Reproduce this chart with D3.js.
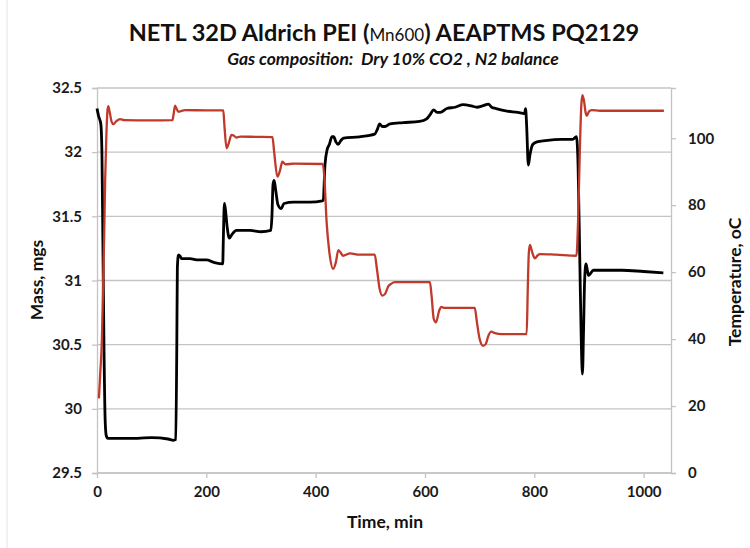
<!DOCTYPE html>
<html><head><meta charset="utf-8">
<script src="https://cdn.jsdelivr.net/npm/d3@7"></script>
<style>
body{margin:0;background:#fff;}
svg{display:block;font-family:Lato,"Open Sans",sans-serif;}
</style></head>
<body><svg id="c" width="750" height="548"></svg>
<script>
// ---- data ----
const massTime = [0,3,7,9,11,13,15,17,20,27,60,100,130,140,144,146,147,149,152,155,170,185,200,215,230,231,233,235,238,242,247,255,280,300,318,320,322,324,327,331,337,342,360,390,412,414,417,421,425,430,433,437,441,446,451,480,508,513,517,522,527,536,560,590,603,609,616,622,628,640,655,670,685,695,705,716,722,730,750,770,782,784,786,789,792,797,805,820,850,870,877,880,883,886,888,890,892,894.5,897,899,902,908,930,960,1000,1036];
const massValue = [32.34,32.28,32.22,32.0,31.2,30.4,29.9,29.79,29.77,29.77,29.77,29.775,29.765,29.755,29.76,30.5,31.1,31.2,31.19,31.17,31.17,31.16,31.16,31.14,31.13,31.3,31.6,31.55,31.42,31.33,31.36,31.39,31.39,31.38,31.39,31.5,31.75,31.78,31.7,31.59,31.56,31.6,31.61,31.61,31.62,31.63,31.9,32.02,32.06,32.12,32.12,32.08,32.06,32.09,32.11,32.12,32.14,32.18,32.22,32.2,32.2,32.22,32.23,32.24,32.26,32.29,32.33,32.31,32.31,32.34,32.35,32.37,32.36,32.35,32.36,32.375,32.35,32.34,32.32,32.31,32.30,32.34,32.2,31.9,31.98,32.06,32.08,32.09,32.1,32.1,32.12,31.9,31.2,30.5,30.27,30.6,31.0,31.13,31.08,31.04,31.05,31.08,31.08,31.08,31.07,31.06];
const tempTime = [3.5,6,9,11,13,15,17,19,20.7,23,27,30,35,42,50,100,138,140,142.7,145,149,155,161,200,231,233,237,241,246,250,255,262,290,321,324,330,335,339,345,360,413,416,420,425,432,437,441.5,445,450,463,480,508,512,517,522,527,533,538,545,580,609,612,616,620,626,630,636,660,691,695,700,706,711,716,721,728,740,786,788,790,792,796,801,806,810,840,877,880,883,886,888,891,894,896,900,905,920,1000,1037];
const tempValue = [22.3,30,40,55,70,88,100,108,109.6,108,104.8,104.2,105,105.7,105.4,105.3,105.4,107,109.7,109,107.9,108.2,108.4,108.3,108.3,104,97,98.5,101,100.8,100.2,100.5,100.4,100.3,96,88.5,90.5,93,92.2,92.4,92.3,88,75,66,61,63,66.6,66,64.9,65.6,65.2,65.2,61,55,53,53.5,55.8,56.5,57,57,57,53,46,45,48.5,49.6,49.3,49.3,49.3,45,40,38,38.5,41,42.2,41.8,41.5,41.5,55,66,68.1,66,64.1,65,65.4,65.2,64.9,75,95,110,112.9,111,107.5,106.7,108,108.4,108.2,108.2,108.2];
const xTicks = [0,200,400,600,800,1000];
const massTicks = [29.5,30,30.5,31,31.5,32,32.5];
const massTickLabels = ["29.5","30","30.5","31","31.5","32","32.5"];
const tempTicks = [0,20,40,60,80,100];
const titleMain = ["NETL 32D Aldrich PEI (", "Mn600", ") AEAPTMS PQ2129"];
const subtitle = "Gas composition:  Dry 10% CO2 , N2 balance";

// ---- layout ----
const L = 97, R = 671, T = 88, B = 473;
const svg = d3.select("#c");
const x = d3.scaleLinear().domain([0,1050]).range([L,R]);
const yM = d3.scaleLinear().domain([29.5,32.5]).range([B,T]);
const yT = d3.scaleLinear().domain([0,115]).range([B,T]);
const gridC = "#c4c4c4";

// chart border (faint)
svg.append("rect").attr("x",7).attr("y",-10).attr("width",800).attr("height",600)
  .attr("fill","none").attr("stroke","#e3e3e3").attr("stroke-width",1);

// gridlines
svg.append("g").selectAll("line").data(massTicks).join("line")
  .attr("x1",L).attr("x2",R).attr("y1",d=>yM(d)).attr("y2",d=>yM(d))
  .attr("stroke",gridC).attr("stroke-width",1.3);

// axes
const ax = svg.append("g").attr("transform",`translate(0,${B})`)
  .call(d3.axisBottom(x).tickValues(xTicks).tickSize(5).tickPadding(8).tickFormat(d3.format("d")));
const ayL = svg.append("g").attr("transform",`translate(${L},0)`)
  .call(d3.axisLeft(yM).tickValues(massTicks).tickSize(5).tickPadding(10).tickFormat((d,i)=>massTickLabels[i]));
const ayR = svg.append("g").attr("transform",`translate(${R},0)`)
  .call(d3.axisRight(yT).tickValues(tempTicks).tickSize(5).tickPadding(12).tickFormat(d3.format("d")));
[ax,ayL,ayR].forEach(g=>{
  g.select(".domain").attr("stroke",gridC).attr("stroke-width",1.3);
  g.selectAll(".tick line").attr("stroke",gridC).attr("stroke-width",1.3);
  g.selectAll(".tick text").attr("font-family","Lato").attr("font-weight","bold")
    .attr("font-size",15).attr("fill","#1a1a1a");
});
ax.select(".domain").attr("d",`M${L},0H${R}`);

// lines
const lineM = d3.line().x((d,i)=>x(massTime[i])).y(d=>yM(d)).curve(d3.curveMonotoneX);
const lineT = d3.line().x((d,i)=>x(tempTime[i])).y(d=>yT(d)).curve(d3.curveMonotoneX);
svg.append("path").attr("d",lineM(massValue)).attr("fill","none")
  .attr("stroke","#000").attr("stroke-width",2.8).attr("stroke-linejoin","round");
svg.append("path").attr("d",lineT(tempValue)).attr("fill","none")
  .attr("stroke","#c0392b").attr("stroke-width",2.3).attr("stroke-linejoin","round");

// titles
const t1 = svg.append("text").attr("x",384).attr("y",41).attr("text-anchor","middle")
  .attr("font-weight","bold").attr("font-size",23.5).attr("fill","#111");
t1.append("tspan").text(titleMain[0]);
t1.append("tspan").attr("font-size",17).attr("font-weight","normal").text(titleMain[1]);
t1.append("tspan").text(titleMain[2]);
svg.append("text").attr("x",393).attr("y",65).attr("text-anchor","middle")
  .attr("font-weight","bold").attr("font-style","italic").attr("font-size",17.5).attr("fill","#111")
  .attr("xml:space","preserve").style("white-space","pre").text(subtitle);
svg.append("text").attr("transform","translate(43,280) rotate(-90)").attr("text-anchor","middle")
  .attr("font-weight","bold").attr("font-size",17.5).attr("fill","#111").text("Mass, mgs");
svg.append("text").attr("transform","translate(741,282) rotate(-90)").attr("text-anchor","middle")
  .attr("font-weight","bold").attr("font-size",17.5).attr("fill","#111").text("Temperature, oC");
svg.append("text").attr("x",385).attr("y",528).attr("text-anchor","middle")
  .attr("font-weight","bold").attr("font-size",17.5).attr("fill","#111").text("Time, min");
</script></body></html>
